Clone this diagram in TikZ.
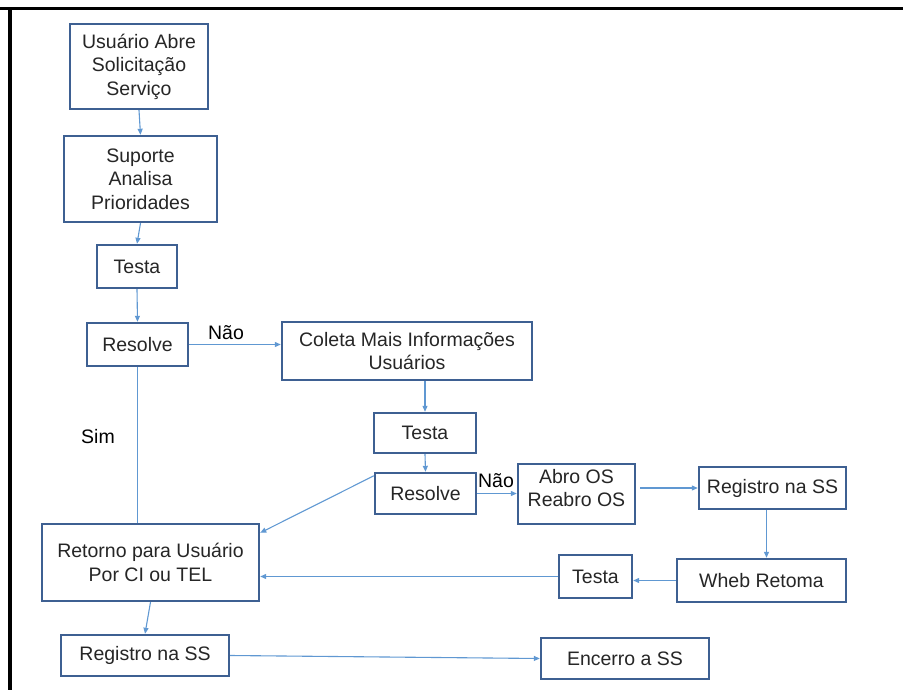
\documentclass[tikz,border=0pt]{standalone}
\usepackage{fontspec}
\setmainfont{Liberation Sans}
\definecolor{BoxBlue}{RGB}{62,96,146}
\definecolor{LineBlue}{RGB}{96,152,210}
\definecolor{TextGray}{RGB}{38,38,38}
\usepackage{tikz}
\usetikzlibrary{arrows.meta, positioning}

\begin{document}
\begin{tikzpicture}[
  x=1pt, y=-1pt,
  stepbox/.style={
    draw=BoxBlue,
    fill=white,
    line width=2.4pt,
    inner sep=0pt,
    align=center,
    text=TextGray,
    font=\fontsize{19.5}{23.5}\selectfont
  },
  flowline/.style={draw=LineBlue, line width=1.1pt},
  flowarrow/.style={flowline, -{Triangle[length=6pt,width=5pt]}},
  answer/.style={font=\fontsize{19.5}{23.5}\selectfont, text=black, inner sep=0pt}
]
\useasboundingbox (0,0) rectangle (903,690);

% frame
\draw[line width=3pt] (0,9) -- (903,9);
\draw[line width=3.5pt] (10,9) -- (10,690);

% boxes
\node[stepbox, minimum width=138pt, minimum height=85pt] (usuario) at (139,66.5)
  {Usuário Abre\\Solicitação\\Serviço};
\node[stepbox, minimum width=153pt, minimum height=86pt] (suporte) at (140.5,179)
  {Suporte\\Analisa\\Prioridades};
\node[stepbox, minimum width=80pt, minimum height=43pt] (testa1) at (137,266.5) {Testa};
\node[stepbox, minimum width=101pt, minimum height=43pt] (resolve1) at (137.5,344.5) {Resolve};
\node[stepbox, minimum width=250pt, minimum height=58pt] (coleta) at (407,351)
  {Coleta Mais Informações\\Usuários};
\node[stepbox, minimum width=102pt, minimum height=40pt] (testa2) at (425,433) {Testa};
\node[stepbox, minimum width=101pt, minimum height=41pt] (resolve2) at (425.5,493.5) {Resolve};
\node[stepbox, minimum width=117pt, minimum height=60pt, text depth=12pt] (abro) at (576.5,494)
  {Abro OS\\Reabro OS};
\node[stepbox, minimum width=147pt, minimum height=42pt] (registro1) at (772.5,488) {Registro na SS};
\node[stepbox, minimum width=169pt, minimum height=43pt] (wheb) at (761.5,580.5) {Wheb Retoma};
\node[stepbox, minimum width=73pt, minimum height=43pt] (testa3) at (595.5,576.5) {Testa};
\node[stepbox, minimum width=217pt, minimum height=77pt] (retorno) at (150.5,562.5)
  {Retorno para Usuário\\Por CI ou TEL};
\node[stepbox, minimum width=168pt, minimum height=41pt] (registro2) at (145,655.5) {Registro na SS};
\node[stepbox, minimum width=168pt, minimum height=41pt] (encerro) at (625,658.5) {Encerro a SS};

% answers
\node[answer] (nao1) at (226,333) {Não};
\node[answer] (sim) at (98,437) {Sim};
\node[answer] (nao2) at (496,481) {Não};

% connectors
\draw[flowarrow] (usuario.south) -- (suporte.north);
\draw[flowarrow] (suporte.south) -- (testa1.north);
\draw[flowarrow] (testa1.south) -- (resolve1.north);
\draw[flowarrow] (resolve1.east) -- (resolve1.east -| coleta.west);
\draw[flowline] (resolve1.south) -- (resolve1.south |- retorno.north);
\draw[flowarrow] (coleta.south -| testa2.north) -- (testa2.north);
\draw[flowarrow] (testa2.south) -- (resolve2.north);
\draw[flowarrow] (resolve2.east) -- (resolve2.east -| abro.west);
\draw[flowarrow] ([yshift=-4pt]resolve2.north west) -- ([yshift=-10pt]retorno.north east);
\draw[flowarrow] ([xshift=4pt]abro.east |- registro1.west) -- (registro1.west);
\draw[flowarrow] ([xshift=-6pt]registro1.south) -- ([xshift=-6pt]registro1.south |- wheb.north);
\draw[flowarrow] (wheb.west) -- (wheb.west -| testa3.east);
\draw[flowarrow] (testa3.west) -- (testa3.west -| retorno.east);
\draw[flowarrow] (retorno.south) -- (registro2.north);
\draw[flowarrow] (registro2.east) -- (encerro.west);
\end{tikzpicture}
\end{document}
